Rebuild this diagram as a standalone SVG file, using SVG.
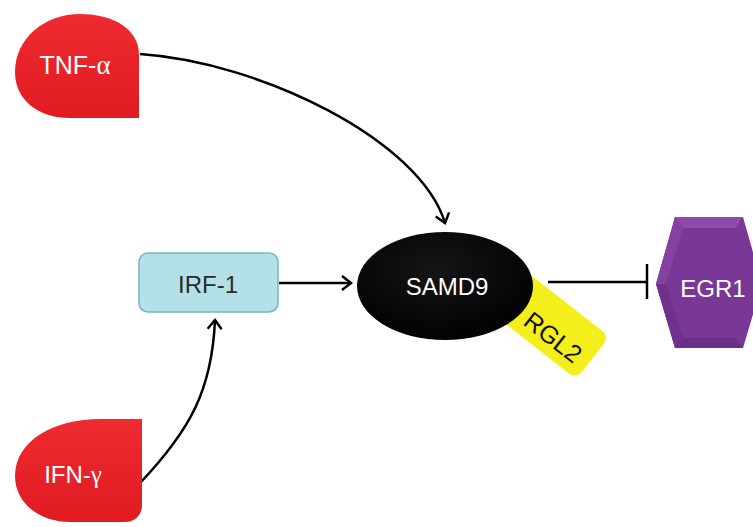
<svg xmlns="http://www.w3.org/2000/svg" width="753" height="527" viewBox="0 0 753 527">
  <defs>
    <linearGradient id="redFill" x1="0" y1="0" x2="0" y2="1">
      <stop offset="0" stop-color="#ee2b30"/>
      <stop offset="1" stop-color="#e01b22"/>
    </linearGradient>
    <radialGradient id="blackFill" cx="0.45" cy="0.35" r="0.7">
      <stop offset="0" stop-color="#151515"/>
      <stop offset="1" stop-color="#000000"/>
    </radialGradient>
    <marker id="arrow" markerUnits="userSpaceOnUse" markerWidth="24" markerHeight="24" refX="0" refY="0" viewBox="-12 -12 24 24" orient="auto" overflow="visible">
      <path d="M-9,-7 L0,0 L-9,7" fill="none" stroke="#000" stroke-width="2.5" stroke-linejoin="miter"/>
    </marker>
  </defs>
  <style>
    .label { font-family: "Liberation Sans", Arial, sans-serif; font-size: 24px; text-anchor: middle; }
    .white { fill: #ffffff; }
    .dark { fill: #2b2b2b; }
    .edge { fill: none; stroke: #000; stroke-width: 2.5; }
    .greek { font-family: "Liberation Serif", "DejaVu Serif", serif; font-size: 27px; }
  </style>
  <rect width="753" height="527" fill="#ffffff"/>

  <g id="connectors">
    <path class="edge" d="M140,54 C260,62 420,140 445,223" marker-end="url(#arrow)"/>
    <path class="edge" d="M141,482 C190,430 212,390 215,320" marker-end="url(#arrow)"/>
    <path class="edge" d="M279,283 L351,283" marker-end="url(#arrow)"/>
    <path class="edge" d="M548,282 L647,282"/>
    <path class="edge" d="M647,264 L647,299"/>
  </g>

  <g id="tnf-alpha">
    <path d="M139,118 L70,118 C38,118 15,100 15,72 C15,38 45,14 80,14 C115,14 139,30 139,55 Z" fill="url(#redFill)"/>
    <text class="label white" x="75" y="74" style="font-size:25px">TNF-<tspan class="greek">α</tspan></text>
  </g>

  <g id="ifn-gamma">
    <path d="M142,419 L142,505 C142,515 135,522 125,522 L70,522 C38,522 15,502 15,476 C15,440 55,419 100,419 Z" fill="url(#redFill)"/>
    <text class="label white" x="73" y="483">IFN-<tspan class="greek" style="font-size:25px">γ</tspan></text>
  </g>

  <g id="irf-1">
    <rect x="139" y="253" width="139" height="59" rx="9" fill="#b4e1e8" stroke="#78b6bd" stroke-width="1.5"/>
    <text class="label dark" x="208" y="293">IRF-1</text>
  </g>

  <g id="rgl2">
    <g transform="translate(537,280) rotate(38)">
      <rect x="-15" y="0" width="107" height="54" rx="9" fill="#f4ef1c"/>
      <text class="label" x="48" y="44" fill="#111" style="font-size:25px">RGL2</text>
    </g>
  </g>

  <g id="samd9">
    <ellipse cx="445" cy="286" rx="88" ry="54" fill="url(#blackFill)"/>
    <text class="label white" x="447" y="295">SAMD9</text>
  </g>

  <g id="egr1">
    <polygon points="656,284 675,217 743,217 762,284 743,348 675,348" fill="#7a3896"/>
    <polygon points="675,217 743,217 735,228 683,228" fill="#8e4ba9"/>
    <polygon points="656,284 675,217 683,228 666,284" fill="#84419f"/>
    <polygon points="656,284 666,284 683,338 675,348" fill="#6f3189"/>
    <polygon points="675,348 683,338 735,338 743,348" fill="#6c2f86"/>
    <text class="label white" x="713" y="297">EGR1</text>
  </g>
</svg>
